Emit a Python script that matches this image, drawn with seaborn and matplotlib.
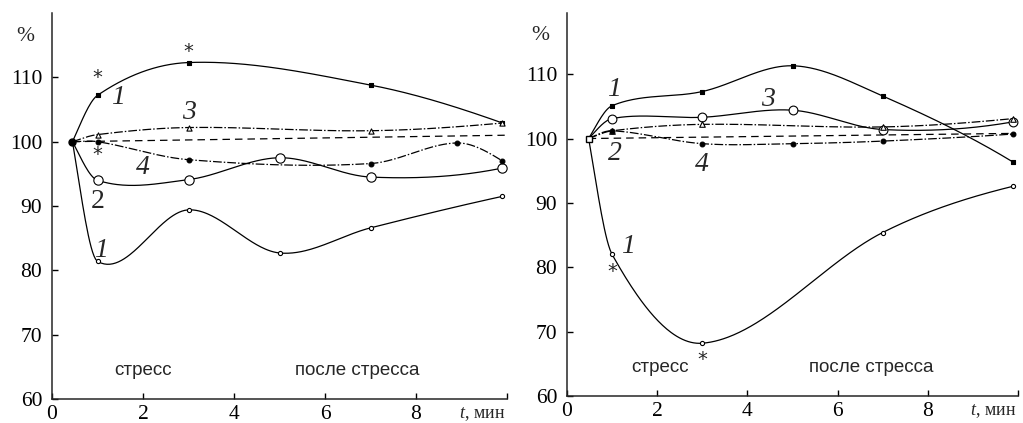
import numpy as np
import pandas as pd
import matplotlib
matplotlib.use("Agg")
import matplotlib.pyplot as plt
import seaborn as sns

# ---------------- data ----------------
# left panel
tL_up1 = [0.45, 1, 3, 7, 9.9]
vL_up1 = [100, 107.2, 112.3, 108.8, 102.9]
tL_lo1 = [0.45, 1, 3, 5, 7, 9.9]
vL_lo1 = [100, 81.4, 89.4, 82.7, 86.6, 91.5]
tL_s3 = [0.45, 1, 3, 7, 9.9]
vL_s3 = [100, 101.1, 102.2, 101.7, 102.9]
tL_s2 = [0.45, 1, 3, 5, 7, 9.9]
vL_s2 = [100, 94.0, 94.1, 97.5, 94.5, 95.9]
tL_s4 = [0.45, 1, 3, 7, 8.9, 9.9]
vL_s4 = [100, 100.0, 97.2, 96.6, 99.8, 97.0]
tL_ref = [0.45, 9.95]
vL_ref = [100, 101.0]

# right panel
tR_up1 = [0.48, 1, 3, 5, 7, 9.9]
vR_up1 = [100, 105.1, 107.3, 111.3, 106.6, 96.3]
tR_lo1 = [0.48, 1, 3, 7, 9.9]
vR_lo1 = [100, 82.0, 68.2, 85.4, 92.6]
tR_s3 = [0.48, 1, 3, 5, 7, 9.9]
vR_s3 = [100, 103.1, 103.3, 104.4, 101.4, 102.6]
tR_s2 = [0.48, 1, 3, 7, 9.9]
vR_s2 = [100, 101.2, 102.2, 101.8, 103.1]
tR_s4 = [0.48, 1, 3, 5, 7, 9.9]
vR_s4 = [100, 101.2, 99.2, 99.2, 99.6, 100.7]
tR_ref = [0.48, 9.95]
vR_ref = [100, 100.8]

y_ticks = [60, 70, 80, 90, 100, 110]
x_ticks = [0, 2, 4, 6, 8, 10]
x_tick_labels = ["0", "2", "4", "6", "8", ""]

# ---------------- style ----------------
sns.set_style("ticks")
plt.rcParams["font.family"] = ["Liberation Serif", "DejaVu Serif"]
plt.rcParams["mathtext.fontset"] = "custom"
plt.rcParams["mathtext.it"] = "Liberation Serif:italic"
plt.rcParams["mathtext.rm"] = "Liberation Serif"

LW = 0.9
DASHDOT = (0, (7, 1.6, 1.2, 1.6))


def smooth(x, y, n=300):
    """Catmull-Rom style cubic Hermite curve through the points."""
    x = np.asarray(x, float)
    y = np.asarray(y, float)
    h = np.diff(x)
    d = np.diff(y) / h
    m = np.zeros_like(y)
    for k in range(1, len(x) - 1):
        m[k] = (y[k + 1] - y[k - 1]) / (x[k + 1] - x[k - 1])

    def end(h0, h1, d0, d1):
        s = ((2 * h0 + h1) * d0 - h0 * d1) / (h0 + h1)
        if np.sign(s) != np.sign(d0):
            return 0.0
        if np.sign(d0) != np.sign(d1) and abs(s) > 3 * abs(d0):
            return 3 * d0
        return s

    m[0] = end(h[0], h[1], d[0], d[1])
    m[-1] = end(h[-1], h[-2], d[-1], d[-2])
    xs = np.linspace(x[0], x[-1], n)
    k = np.clip(np.searchsorted(x, xs) - 1, 0, len(x) - 2)
    t = (xs - x[k]) / h[k]
    h00 = 2 * t**3 - 3 * t**2 + 1
    h10 = t**3 - 2 * t**2 + t
    h01 = -2 * t**3 + 3 * t**2
    h11 = t**3 - t**2
    ys = h00 * y[k] + h10 * h[k] * m[k] + h01 * y[k + 1] + h11 * h[k] * m[k + 1]
    return xs, ys


def curve(ax, t, v, ls="-"):
    xs, ys = smooth(t, v)
    df = pd.DataFrame({"t": xs, "v": ys})
    sns.lineplot(data=df, x="t", y="v", ax=ax, color="black", lw=LW,
                 linestyle=ls, sort=False, estimator=None)


def marks(ax, t, v, marker, s, filled):
    df = pd.DataFrame({"t": t[1:], "v": v[1:]})
    sns.scatterplot(data=df, x="t", y="v", ax=ax, marker=marker, s=s,
                    facecolor="black" if filled else "white",
                    edgecolor="black", linewidth=0.8, zorder=5)


W, H = 1023, 423
fig = plt.figure(figsize=(W / 100, H / 100), dpi=100)
axL = fig.add_axes([52 / W, 1 - 399 / H, 455 / W, 386 / H])
axR = fig.add_axes([567 / W, 1 - 396 / H, 451 / W, 383 / H])

# ---------- left panel ----------
sns.lineplot(x=tL_ref, y=vL_ref, ax=axL, color="black", lw=LW,
             linestyle=(0, (6, 4)))
curve(axL, tL_up1, vL_up1)
curve(axL, tL_lo1, vL_lo1)
curve(axL, tL_s3, vL_s3, DASHDOT)
curve(axL, tL_s2, vL_s2)
curve(axL, tL_s4, vL_s4, DASHDOT)
marks(axL, tL_up1, vL_up1, "s", 9, True)
marks(axL, tL_lo1, vL_lo1, "o", 9, False)
marks(axL, tL_s3, vL_s3, "^", 14, False)
marks(axL, tL_s2, vL_s2, "o", 45, False)
marks(axL, tL_s4, vL_s4, "o", 12, True)
axL.plot([tL_up1[0]], [100], "o", ms=5, color="black", zorder=6)

axL.set_xlim(0, 9.94)
axL.set_ylim(60, 120)

lab_it = dict(fontsize=20, style="italic", ha="center", va="center")
axL.text(1.45, 106.8, "1", **lab_it)
axL.text(3.0, 104.6, "3", **lab_it)
axL.text(1.0, 90.7, "2", fontsize=20, ha="center", va="center")
axL.text(2.0, 96.0, "4", **lab_it)
axL.text(1.07, 83.1, "1", **lab_it)
star = dict(fontsize=14, ha="center", va="center", family="DejaVu Sans")
axL.text(1.0, 109.9, "*", **star)
axL.text(3.0, 114.0, "*", **star)
axL.text(1.0, 98.0, "*", **star)

# ---------- right panel ----------
sns.lineplot(x=tR_ref, y=vR_ref, ax=axR, color="black", lw=LW,
             linestyle=(0, (6, 4)))
curve(axR, tR_up1, vR_up1)
curve(axR, tR_lo1, vR_lo1)
curve(axR, tR_s3, vR_s3)
curve(axR, tR_s2, vR_s2, DASHDOT)
curve(axR, tR_s4, vR_s4, DASHDOT)
marks(axR, tR_up1, vR_up1, "s", 9, True)
marks(axR, tR_lo1, vR_lo1, "o", 9, False)
marks(axR, tR_s3, vR_s3, "o", 40, False)
marks(axR, tR_s2, vR_s2, "^", 16, False)
marks(axR, tR_s4, vR_s4, "o", 12, True)
axR.plot([tR_up1[0]], [100], "s", ms=5, mfc="white", mec="black", zorder=6)

axR.set_xlim(0, 9.98)
axR.set_ylim(60, 119.5)

axR.text(1.05, 107.6, "1", **lab_it)
axR.text(4.45, 106.1, "3", **lab_it)
axR.text(1.06, 97.6, "2", **lab_it)
axR.text(3.0, 95.9, "4", **lab_it)
axR.text(1.35, 83.3, "1", **lab_it)
axR.text(1.0, 79.3, "*", **star)
axR.text(3.0, 65.7, "*", **star)

# ---------- common decorations ----------
sans = dict(fontsize=13.5, family="Liberation Sans", ha="center", va="center")
for ax, xs1, xs2 in [(axL, 2.0, 6.7), (axR, 2.06, 6.75)]:
    sns.despine(ax=ax)
    ax.spines["left"].set_linewidth(1.1)
    ax.spines["bottom"].set_linewidth(1.1)
    ax.set_xticks(x_ticks)
    ax.set_xticklabels(x_tick_labels)
    ax.set_yticks(y_ticks)
    ax.set_yticklabels([str(v) for v in y_ticks])
    ax.tick_params(direction="in", length=4, width=1, labelsize=15.5, pad=4,
                   colors="black")
    ax.tick_params(axis="y", pad=7)
    ax.set_xlabel("")
    ax.set_ylabel("")
    ax.text(xs1, 64.5, "стресс", **sans)
    ax.text(xs2, 64.5, "после стресса", **sans)
    ax.text(9.45, -0.04, r"$t$, мин", fontsize=13, ha="center", va="center",
            transform=ax.get_xaxis_transform(), clip_on=False)
    ax.text(-0.04, 0.94, "%", fontsize=15.5, ha="right", va="center",
            transform=ax.transAxes, clip_on=False)

fig.savefig("out.png", dpi=100)
